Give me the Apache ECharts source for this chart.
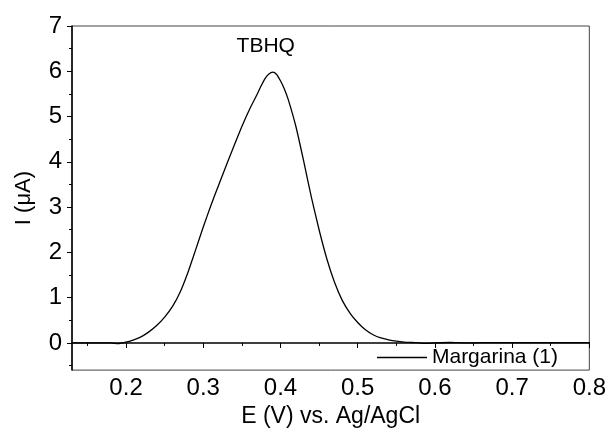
<!DOCTYPE html>
<html>
<head>
<meta charset="utf-8">
<script src="https://cdn.jsdelivr.net/npm/echarts@6/dist/echarts.min.js"></script>
<style>
  html, body { margin: 0; padding: 0; background: #fff; }
  #chart { width: 609px; height: 433px; }
</style>
</head>
<body>
<div id="chart"></div>
<script>
// Differential pulse voltammogram: potential (V vs. Ag/AgCl) and current (µA)
const potential = [
  0.13, 0.15, 0.17, 0.18, 0.19, 0.20, 0.21, 0.22, 0.23, 0.24, 0.25, 0.26,
  0.27, 0.28, 0.29, 0.30, 0.31, 0.32, 0.33, 0.34, 0.35, 0.36, 0.37, 0.375, 0.38,
  0.385, 0.39, 0.395, 0.40, 0.405, 0.41, 0.42, 0.43, 0.44, 0.45, 0.46, 0.47, 0.48,
  0.49, 0.50, 0.51, 0.52, 0.53, 0.54, 0.55, 0.56, 0.57, 0.58, 0.59, 0.60, 0.62,
  0.64, 0.66, 0.70, 0.75, 0.80
];
const current = [
  0, 0, 0, 0, -0.015, 0.02, 0.07, 0.14, 0.25, 0.39, 0.57, 0.80,
  1.12, 1.55, 2.05, 2.56, 3.04, 3.49, 3.93, 4.36, 4.78, 5.16, 5.50, 5.68, 5.84,
  5.94, 5.98, 5.93, 5.79, 5.61, 5.38, 4.78, 4.02, 3.22, 2.50, 1.86, 1.34, 0.94,
  0.66, 0.45, 0.29, 0.18, 0.11, 0.07, 0.04, 0.02, 0.01, 0, -0.01, 0, 0.01,
  0, 0.005, 0.005, 0.005, 0.005
];
const seriesName = 'Margarina (1)';
const peakName = 'TBHQ';

const xMajor = [0.2, 0.3, 0.4, 0.5, 0.6, 0.7, 0.8];
const xMinor = [0.15, 0.25, 0.35, 0.45, 0.55, 0.65, 0.75];
const yMajor = [0, 1, 2, 3, 4, 5, 6, 7];
const yMinor = [-0.5, 0.5, 1.5, 2.5, 3.5, 4.5, 5.5, 6.5];

const FONT = '"Liberation Sans", Arial, sans-serif';
const points = potential.map((e, i) => [e, current[i]]);
let peakIdx = 0;
current.forEach((v, i) => { if (v > current[peakIdx]) peakIdx = i; });

const chart = echarts.init(document.getElementById('chart'), null, { renderer: 'canvas' });

const xBase = {
  type: 'value', min: 0.13, max: 0.8,
  splitLine: { show: false }
};
const yBase = {
  type: 'value', min: -0.6, max: 7,
  splitLine: { show: false }
};

chart.setOption({
  animation: false,
  backgroundColor: '#fff',
  grid: {
    left: 72, right: 12, top: 26, bottom: 59,
    show: true, borderColor: '#444', borderWidth: 1, backgroundColor: 'transparent'
  },
  xAxis: [
    Object.assign({}, xBase, {
      name: 'E (V) vs. Ag/AgCl', nameLocation: 'middle', nameGap: 34,
      nameTextStyle: { fontFamily: FONT, fontSize: 23, color: '#000' },
      axisLine: { show: true, lineStyle: { color: '#000', width: 1.5 } },
      axisTick: { show: true, inside: false, length: 5, customValues: xMajor, lineStyle: { color: '#000', width: 1 } },
      axisLabel: { show: true, customValues: xMajor, margin: 6, fontFamily: FONT, fontSize: 24, color: '#000',
        formatter: v => v.toFixed(1) }
    }),
    Object.assign({}, xBase, {
      position: 'bottom',
      axisLine: { show: false },
      axisTick: { show: true, inside: false, length: 3, customValues: xMinor, lineStyle: { color: '#000', width: 1 } },
      axisLabel: { show: false }
    })
  ],
  yAxis: [
    Object.assign({}, yBase, {
      name: 'I (μA)', nameLocation: 'middle', nameGap: 37, nameRotate: 90,
      nameTextStyle: { fontFamily: FONT, fontSize: 22, color: '#000' },
      axisLine: { show: true, lineStyle: { color: '#000', width: 1.5 } },
      axisTick: { show: true, inside: false, length: 5, customValues: yMajor, lineStyle: { color: '#000', width: 1 } },
      axisLabel: { show: true, customValues: yMajor, margin: 10, fontFamily: FONT, fontSize: 24, color: '#000' }
    }),
    Object.assign({}, yBase, {
      position: 'left',
      axisLine: { show: false },
      axisTick: { show: true, inside: false, length: 3, customValues: yMinor, lineStyle: { color: '#000', width: 1 } },
      axisLabel: { show: false }
    })
  ],
  legend: {
    right: 46, bottom: 60, orient: 'horizontal',
    itemWidth: 50, itemHeight: 1.3, itemGap: 6,
    textStyle: { fontFamily: FONT, fontSize: 21, color: '#000' },
    data: [{ name: seriesName, icon: 'rect' }]
  },
  series: [{
    name: seriesName,
    type: 'line',
    xAxisIndex: 0, yAxisIndex: 0,
    data: points,
    smooth: 0.2,
    showSymbol: false, symbol: 'none',
    lineStyle: { color: '#000', width: 1.3 },
    itemStyle: { color: '#000' },
    markPoint: {
      symbol: 'circle', symbolSize: 0,
      data: [{ coord: points[peakIdx] }],
      label: {
        show: true, formatter: peakName, offset: [-7, -26],
        fontFamily: FONT, fontSize: 21, color: '#000'
      }
    }
  }]
});
</script>
</body>
</html>
